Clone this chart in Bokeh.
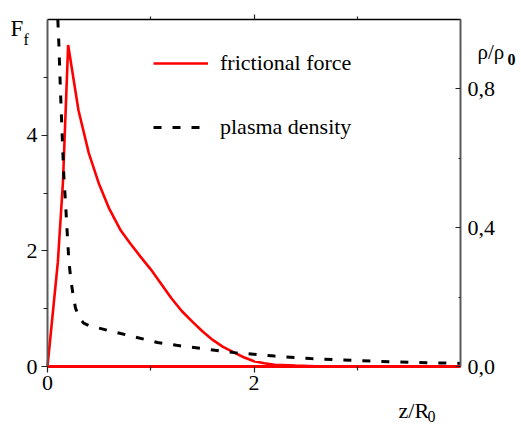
from bokeh.plotting import figure
from bokeh.models import (Range1d, LinearAxis, FixedTicker, Label, Legend, LegendItem)
from bokeh.embed import file_html
from bokeh.resources import INLINE

# ---- data ----
z_force = [0, 0.10, 0.15, 0.20, 0.30, 0.40, 0.50, 0.60, 0.71, 0.80, 0.90, 1.00,
           1.10, 1.20, 1.30, 1.40, 1.50, 1.60, 1.70, 1.80, 1.90, 2.00, 2.10,
           2.20, 2.40, 2.60, 3.00, 4.00]
frictional_force = [0, 1.8, 3.2, 5.56, 4.43, 3.69, 3.15, 2.72, 2.35, 2.13, 1.90, 1.68,
                    1.43, 1.18, 0.96, 0.78, 0.61, 0.46, 0.34, 0.25, 0.16, 0.09, 0.055,
                    0.03, 0.015, 0.005, 0, 0]

z_density = [0.100, 0.110, 0.126, 0.143, 0.158, 0.175, 0.190, 0.207, 0.226, 0.246,
             0.270, 0.304, 0.350, 0.400, 0.480, 0.600, 0.710, 0.850, 1.065, 1.250,
             1.490, 1.810, 2.200, 2.550, 3.000, 3.500, 4.000]
plasma_density = [1.0, 0.93, 0.79, 0.66, 0.55, 0.47, 0.39, 0.305, 0.25, 0.21,
                  0.17, 0.141, 0.125, 0.118, 0.112, 0.103, 0.095, 0.085, 0.069, 0.061,
                  0.052, 0.040, 0.030, 0.023, 0.017, 0.012, 0.009]

x_major = [0, 2]
x_minor = [1, 3]
f_major = [0, 2, 4]
f_minor = [1, 3, 5]
rho_major = [0, 0.4, 0.8]
rho_minor = [0.2, 0.6, 1.0]
rho_labels = {0: "0,0", 0.4: "0,4", 0.8: "0,8"}

X_LIM = (0, 4)
F_LIM = (0, 6)
RHO_LIM = (0, 1)

FONT = "Liberation Serif"
AX_GREY = "#5a5a5a"
TICK = "#222222"

# ---- geometry: where the plotting box sits on the 521x425 canvas ----
W, H = 521, 425
PL, PR, PT, PB = 47.0, 460.0, 19.0, 366.0
sx = (X_LIM[1] - X_LIM[0]) / (PR - PL)
sf = (F_LIM[1] - F_LIM[0]) / (PB - PT)
sr = (RHO_LIM[1] - RHO_LIM[0]) / (PB - PT)

p = figure(width=W, height=H, output_backend="svg", toolbar_location=None,
           x_range=Range1d(X_LIM[0] - PL * sx, X_LIM[1] + (W - PR) * sx),
           y_range=Range1d(F_LIM[0] - (H - PB) * sf, F_LIM[1] + PT * sf),
           x_axis_location=None, y_axis_location=None, min_border=0)
p.extra_y_ranges = {"rho": Range1d(RHO_LIM[0] - (H - PB) * sr, RHO_LIM[1] + PT * sr)}
p.xgrid.visible = False
p.ygrid.visible = False
p.outline_line_color = None
p.background_fill_color = "white"
p.border_fill_color = "white"


def style(ax, line_color, line_width, tin, tout, min_in, min_out, standoff, labels=True):
    ax.axis_line_color = line_color
    ax.axis_line_width = line_width
    ax.major_tick_line_color = TICK
    ax.minor_tick_line_color = TICK
    ax.major_tick_line_width = 1.2
    ax.minor_tick_line_width = 1.2
    ax.major_tick_in = tin
    ax.major_tick_out = tout
    ax.minor_tick_in = min_in
    ax.minor_tick_out = min_out
    ax.major_label_standoff = standoff
    ax.major_label_text_font = FONT
    ax.major_label_text_font_size = "22px"
    ax.major_label_text_color = "black"
    if not labels:
        ax.major_label_text_alpha = 0


# top axis (ticks only) – drawn first so the others sit over it
ta = LinearAxis(ticker=FixedTicker(ticks=[2], minor_ticks=[1, 3]),
                fixed_location=F_LIM[1], bounds=X_LIM)
style(ta, "black", 1.5, 0, 5, 0, 3, 0, labels=False)
ta.major_label_overrides = {2: " "}
p.add_layout(ta, "above")

# left axis
ya = LinearAxis(ticker=FixedTicker(ticks=f_major, minor_ticks=f_minor),
                fixed_location=X_LIM[0], bounds=F_LIM)
style(ya, AX_GREY, 2, 0, 6, 0, 4, 4)
p.add_layout(ya, "left")

# right axis (density)
ra = LinearAxis(y_range_name="rho", ticker=FixedTicker(ticks=rho_major, minor_ticks=rho_minor),
                fixed_location=X_LIM[1], bounds=RHO_LIM)
ra.major_label_overrides = rho_labels
style(ra, AX_GREY, 2, 5, 0, 2, 0, 7)
p.add_layout(ra, "right")

# data
r_force = p.line(z_force, frictional_force, line_color="red", line_width=2.6)
r_dens = p.line(z_density, plasma_density, y_range_name="rho", line_color="black",
                line_width=3, line_dash="8 11")

# bottom axis (red line = zero force level)
xa = LinearAxis(ticker=FixedTicker(ticks=x_major, minor_ticks=x_minor),
                fixed_location=F_LIM[0], bounds=X_LIM)
style(xa, "red", 3, 0, 6, 0, 4, 3)
p.add_layout(xa, "below")

legend = Legend(items=[LegendItem(label="frictional force", renderers=[r_force]),
                       LegendItem(label="plasma density", renderers=[r_dens])],
                location=(153, 285), orientation="vertical",
                glyph_width=55, glyph_height=20, label_height=20,
                label_standoff=12, spacing=38, padding=0, margin=0,
                border_line_color=None, background_fill_alpha=0,
                label_text_font=FONT, label_text_font_size="22px",
                label_text_color="black")
p.add_layout(legend, "center")


def lab(text, px, py, size, bold=False):
    x = X_LIM[0] + (px - PL) * sx
    y = F_LIM[0] + (PB - py) * sf
    p.add_layout(Label(x=x, y=y, text=text, text_font=FONT,
                       text_font_size=size, text_color="black",
                       text_font_style="bold" if bold else "normal",
                       text_baseline="alphabetic", text_align="left"))


lab("F", 10, 28, "23px")
lab("f", 23, 39, "16px")
lab("ρ/ρ", 477, 51, "21px")
lab("0", 507, 59, "16px", bold=True)
lab("z/R", 398, 410, "22px")
lab("0", 427, 416, "16px")

open("out.html", "w").write(file_html(p, INLINE))
